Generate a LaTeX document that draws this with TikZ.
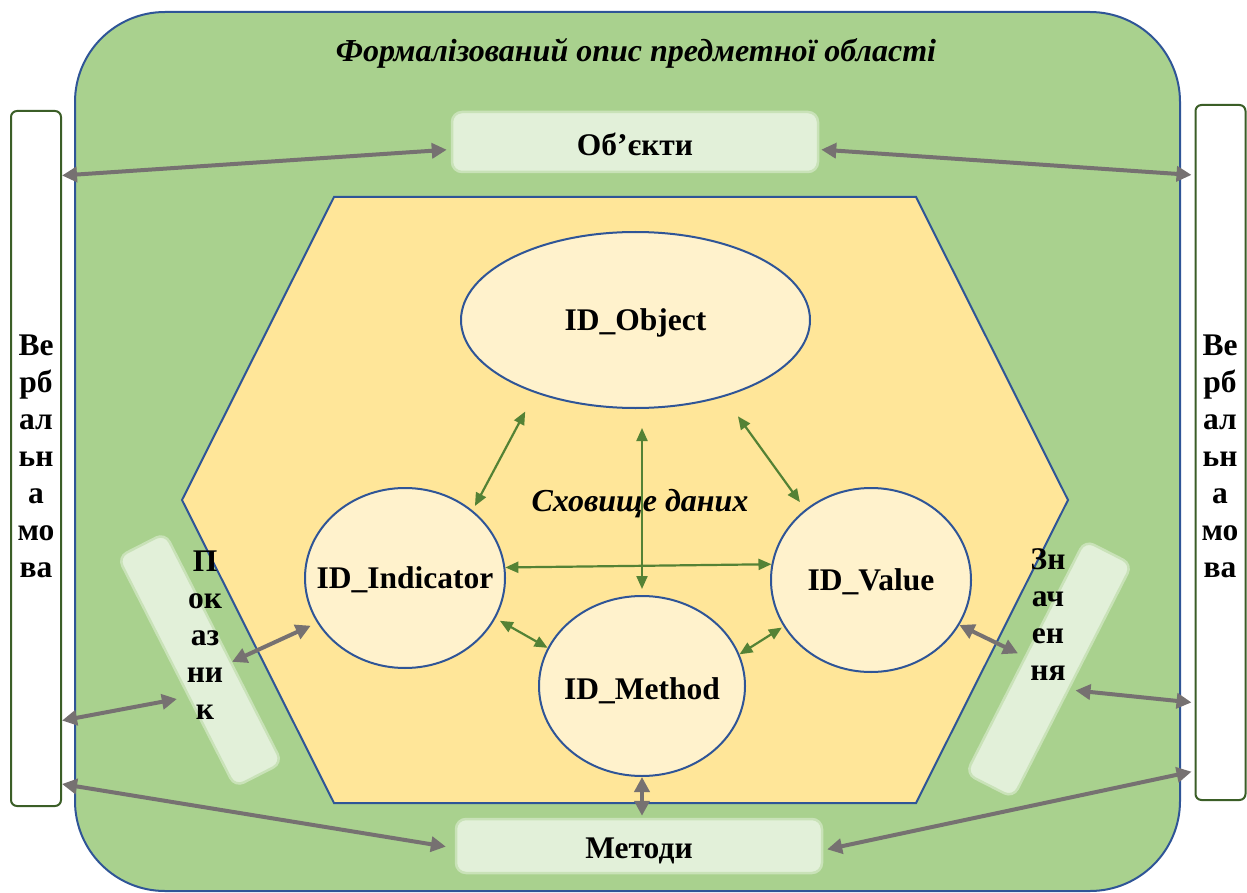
\documentclass[tikz,border=0pt]{standalone}
\usepackage{fontspec}
\setmainfont{Liberation Serif}
\usetikzlibrary{arrows.meta,calc,shapes.geometric}
\definecolor{areagreen}{HTML}{A9D18E}
\definecolor{edgeblue}{HTML}{2F5597}
\definecolor{storefill}{HTML}{FFE699}
\definecolor{ellfill}{HTML}{FFF2CC}
\definecolor{boxfill}{HTML}{E2F0D9}
\definecolor{boxedge}{HTML}{C9E2B8}
\definecolor{verbedge}{HTML}{3B5E27}
\definecolor{linkgray}{HTML}{767171}
\definecolor{linkgreen}{HTML}{548235}

\begin{document}
\begin{tikzpicture}[x=1pt,y=-1pt,
  lbl/.style={font=\bfseries\fontsize{31.5}{37}\selectfont, align=center, inner sep=0pt},
  ilbl/.style={font=\bfseries\itshape\fontsize{32}{36}\selectfont, inner sep=0pt},
  entity/.style={ellipse, draw=edgeblue, line width=2pt, fill=ellfill, inner sep=0pt},
  termbox/.style={rectangle, rounded corners=10pt, fill=boxfill, draw=boxedge, line width=2.5pt, inner sep=0pt},
  verbbox/.style={rectangle, rounded corners=6pt, fill=white, draw=verbedge, line width=2pt, inner sep=0pt, minimum width=50pt, minimum height=695pt},
  graylink/.style={draw=linkgray, line width=4pt, {Triangle[length=15pt,width=15pt]}-{Triangle[length=15pt,width=15pt]}},
  greenlink/.style={draw=linkgreen, line width=2.2pt, {Triangle[length=13pt,width=11pt]}-{Triangle[length=13pt,width=11pt]}},
]
\useasboundingbox (0,0) rectangle (1247,893);

% subject area
\node[rectangle, rounded corners=90pt, draw=edgeblue, line width=2pt, fill=areagreen,
      minimum width=1105pt, minimum height=879pt, inner sep=0pt] (area) at (627.5,451.5) {};
\node[ilbl] (title) at (636,53) {Формалізований опис предметної області};

% data storage hexagon
\draw[edgeblue, line width=2pt, fill=storefill]
  (334,197) -- (916,197) -- (1068,500) -- (916,803) -- (334,803) -- (182,500) -- cycle;

% term boxes
\node[termbox, minimum width=366pt, minimum height=60pt] (obox) at (635,142) {};
\node[termbox, minimum width=366pt, minimum height=54pt] (mbox) at (639,846) {};
\node[termbox, minimum width=53pt, minimum height=258pt, rotate=27] (pbox) at (200,660) {};
\node[termbox, minimum width=53pt, minimum height=262pt, rotate=-27] (zbox) at (1049,669) {};
\node[lbl] (otext) at ($(obox)+(0,2)$) {Об’єкти};
\node[lbl] (mtext) at ($(mbox)+(0,5)$) {Методи};

% verbal language bars
\node[verbbox] (vl) at (36,458.5) {};
\node[verbbox] (vr) at (1220.5,452.5) {};
\node[lbl] (vltext) at (36,456) {Ве\\рб\\ал\\ьн\\а\\мо\\ва};
\node[lbl] (vrtext) at (1220,456) {Ве\\рб\\ал\\ьн\\а\\мо\\ва};

% identifiers
\node[entity, minimum width=349pt, minimum height=176pt] (obj) at (635.5,320) {};
\node[entity, minimum width=200pt, minimum height=180pt] (ind) at (405,578) {};
\node[entity, minimum width=200pt, minimum height=184pt] (val) at (871,580) {};
\node[entity, minimum width=206pt, minimum height=180pt] (met) at (642,686) {};

\node[lbl] (objt) at ($(obj)+(0,3)$) {ID\_Object};
\node[lbl] (indt) at ($(ind)+(0,2)$) {ID\_Indicator};
\node[lbl] (valt) at ($(val)+(0,2)$) {ID\_Value};
\node[lbl] (mett) at ($(met)+(0,5)$) {ID\_Method};
\node[ilbl] (store) at (640,504) {Сховище даних};

% links inside the storage
\draw[greenlink, shorten <=21pt, shorten >=5pt] (obj.216) -- (ind.45);
\draw[greenlink, shorten <=24pt, shorten >=9pt] (obj.319) -- (val.133);
\draw[greenlink, shorten <=19pt, shorten >=6pt] (obj.south -| met.north) -- (met.north);
\draw[greenlink] (ind.6) -- (val.171);
\draw[greenlink, shorten <=5pt] (ind.336) -- (met.158);
\draw[greenlink, shorten >=2pt] (met.18) -- (val.208);

% links to terms and verbal language
\draw[graylink, shorten <=4pt] ($(obox.north west)!0.62!(obox.south west)$) -- ($(vl.north east)!0.094!(vl.south east)$);
\draw[graylink, shorten <=2pt, shorten >=3pt] ($(obox.north east)!0.62!(obox.south east)$) -- ($(vr.north west)!0.102!(vr.south west)$);
\draw[graylink, shorten <=9pt] ($(mbox.north west)!0.537!(mbox.south west)$) -- ($(vl.north east)!0.967!(vl.south east)$);
\draw[graylink, shorten <=4pt, shorten >=3pt] ($(mbox.north east)!0.574!(mbox.south east)$) -- ($(vr.north west)!0.957!(vr.south west)$);
\draw[graylink, shorten >=11pt] ($(vl.north east)!0.876!(vl.south east)$) -- ($(pbox.west)!0.21!(pbox.south west)$);
\draw[graylink, shorten >=7pt] ($(pbox.east)!0.124!(pbox.south east)$) -- (ind.207);
\draw[graylink, shorten >=7pt] (val.333) -- (zbox.west);
\draw[graylink, shorten <=6pt, shorten >=3pt] ($(zbox.east)!0.07!(zbox.south east)$) -- ($(vr.north west)!0.859!(vr.south west)$);
\draw[graylink, shorten >=2pt] (met.south) -- (met.south |- mbox.north);

% labels of the slanted boxes
\node[lbl] (ptext) at (205,635) {П\\ок\\аз\\ни\\к};
\node[lbl] (ztext) at (1048,615) {Зн\\ач\\ен\\ня};
\end{tikzpicture}
\end{document}
